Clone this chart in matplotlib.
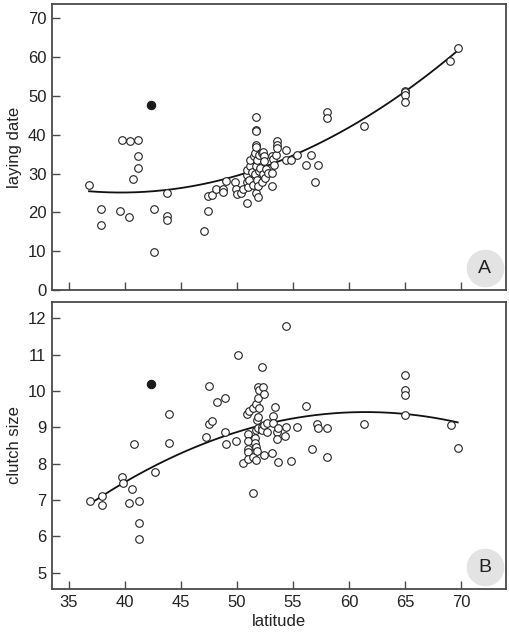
import numpy as np
import matplotlib
matplotlib.use("Agg")
import matplotlib.pyplot as plt

# panel A: laying date vs latitude
lat_a = [36.8, 37.9, 37.9, 39.6, 39.75, 40.4, 40.5, 40.7, 41.2, 41.2, 41.2, 42.6, 42.6,
         43.8, 43.8, 43.8, 47.1, 47.4, 47.4, 47.8, 48.1, 48.8, 48.8, 49.0, 49.8, 49.9,
         50.0, 50.4, 50.5, 50.9, 50.9, 50.9, 50.9, 51.0, 51.1, 51.2, 51.2, 51.3, 51.4,
         51.5, 51.6, 51.6, 51.7, 51.7, 51.7, 51.7, 51.7, 51.7, 51.7, 51.8, 51.8, 51.9,
         51.9, 52.0, 52.0, 52.1, 52.2, 52.2, 52.3, 52.3, 52.4, 52.4, 52.5, 52.6, 52.8,
         53.1, 53.1, 53.1, 53.2, 53.3, 53.5, 53.6, 53.6, 53.6, 54.4, 54.4, 54.8, 55.4,
         56.2, 56.6, 57.0, 57.2, 58.0, 58.0, 61.3, 65.0, 65.0, 65.0, 65.0, 69.0, 69.7]
date_a = [27.1, 20.9, 16.8, 20.4, 38.7, 18.8, 38.4, 28.5, 38.7, 34.4, 31.3, 20.9, 9.9,
          25.0, 19.0, 17.9, 15.1, 24.1, 20.4, 24.5, 25.9, 25.9, 25.2, 28.0, 27.7, 25.9,
          24.8, 25.0, 25.9, 22.3, 27.7, 29.5, 30.8, 26.6, 28.4, 31.9, 33.4, 30.3, 27.0,
          34.4, 35.3, 29.9, 44.5, 41.3, 41.0, 37.4, 36.8, 25.0, 32.0, 28.3, 33.6, 24.0,
          26.7, 34.9, 30.6, 31.5, 35.3, 27.8, 35.5, 29.9, 34.4, 33.1, 28.9, 31.2, 30.2,
          26.7, 30.2, 34.6, 33.8, 32.1, 34.9, 38.3, 37.4, 36.7, 36.0, 33.6, 33.4, 34.7,
          32.1, 34.9, 27.8, 32.1, 45.9, 44.4, 42.3, 51.4, 50.9, 50.3, 48.4, 59.1, 62.4]
out_lat_a = [42.3]
out_date_a = [47.6]
# fitted curve
curve_lat_a = [36.8, 40, 45, 50, 55, 60, 65, 69.7]
curve_date_a = [25.4, 25.1, 26.3, 29.4, 34.8, 42.1, 50.5, 62.0]

# panel B: clutch size vs latitude
lat_b = [36.9, 38.0, 38.0, 39.7, 39.8, 40.4, 40.6, 40.8, 41.3, 41.3, 41.3, 42.7, 43.9,
         43.9, 47.2, 47.5, 47.5, 47.8, 48.2, 48.9, 48.9, 49.0, 49.9, 50.1, 50.5, 50.9,
         51.0, 51.0, 51.0, 51.0, 51.0, 51.1, 51.4, 51.4, 51.4, 51.6, 51.6, 51.7, 51.7,
         51.7, 51.7, 51.8, 51.8, 51.9, 51.9, 51.9, 51.9, 52.0, 52.0, 52.2, 52.2, 52.2,
         52.3, 52.4, 52.4, 52.4, 52.7, 52.7, 53.1, 53.2, 53.2, 53.4, 53.6, 53.6, 53.7,
         53.7, 54.3, 54.4, 54.4, 54.8, 55.4, 56.2, 56.7, 57.1, 57.2, 58.0, 58.0, 61.3,
         65.0, 65.0, 65.0, 65.0, 69.1, 69.7]
clutch_b = [6.98, 7.12, 6.86, 7.64, 7.48, 6.91, 7.31, 8.53, 6.96, 6.38, 5.92, 7.78, 9.37,
            8.58, 8.74, 10.15, 9.09, 9.18, 9.70, 9.80, 8.87, 8.55, 8.62, 11.0, 8.02, 9.37,
            8.82, 8.40, 8.33, 8.12, 8.61, 9.46, 9.53, 8.18, 7.20, 8.70, 8.56, 9.65, 8.93,
            8.47, 8.10, 9.19, 8.36, 10.12, 9.80, 9.28, 8.98, 10.03, 9.53, 10.66, 9.02, 8.93,
            10.12, 9.92, 9.07, 8.24, 9.13, 8.86, 8.29, 9.32, 9.12, 9.57, 8.86, 8.67, 8.98,
            8.05, 8.75, 11.8, 9.02, 8.08, 9.0, 9.59, 8.39, 9.09, 8.98, 8.98, 8.19, 9.09,
            10.44, 10.02, 9.89, 9.35, 9.06, 8.42]
out_lat_b = [42.3]
out_clutch_b = [10.2]
curve_lat_b = [36.9, 40, 45, 50, 55, 60, 65, 69.7]
curve_clutch_b = [6.88, 7.52, 8.27, 8.87, 9.25, 9.41, 9.36, 9.14]

plt.rcParams['font.family'] = ['Liberation Sans', 'DejaVu Sans']
edge = '#4a4a4a'

fig = plt.figure(figsize=(5.1, 6.33), dpi=100)
ax1 = fig.add_axes([0.102, 0.542, 0.890, 0.4517])
ax2 = fig.add_axes([0.102, 0.0695, 0.890, 0.4535])


def draw(ax, x, y, ox, oy, cx, cy, letter):
    ax.scatter(x, y, s=30, facecolors='white', edgecolors='#222222', linewidths=0.8, zorder=3)
    ax.scatter(ox, oy, s=36, facecolors='#1a1a1a', edgecolors='#1a1a1a', linewidths=0.8, zorder=3)
    # smooth quadratic through the read curve points
    p = np.polyfit(cx, cy, 2)
    xs = np.linspace(cx[0], cx[-1], 200)
    ax.plot(xs, np.polyval(p, xs), color='#111111', lw=1.3, zorder=2)
    ax.set_xlim(33.5, 74)
    ax.set_xticks([35, 40, 45, 50, 55, 60, 65, 70])
    for s in ax.spines.values():
        s.set_color(edge)
        s.set_linewidth(1.3)
    ax.tick_params(direction='in', length=6, width=1, color=edge, labelsize=12,
                   labelcolor='#222222', pad=4)
    ax.scatter([0.953], [0.075], s=680, color='#e3e3e3', transform=ax.transAxes,
               zorder=4, clip_on=False)
    ax.text(0.953, 0.075, letter, transform=ax.transAxes, ha='center', va='center',
            fontsize=14, color='#222222', zorder=5)


draw(ax1, lat_a, date_a, out_lat_a, out_date_a, curve_lat_a, curve_date_a, 'A')
ax1.set_ylim(0, 73.7)
ax1.set_yticks([0, 10, 20, 30, 40, 50, 60, 70])
ax1.tick_params(axis='x', labelbottom=False)
ax1.set_ylabel('laying date', fontsize=12, color='#222222')

draw(ax2, lat_b, clutch_b, out_lat_b, out_clutch_b, curve_lat_b, curve_clutch_b, 'B')
ax2.set_ylim(4.55, 12.45)
ax2.set_yticks([5, 6, 7, 8, 9, 10, 11, 12])
ax2.set_ylabel('clutch size', fontsize=12, color='#222222')
ax2.set_xlabel('latitude', fontsize=12, color='#222222', labelpad=3)

fig.savefig('out.png', dpi=100)
